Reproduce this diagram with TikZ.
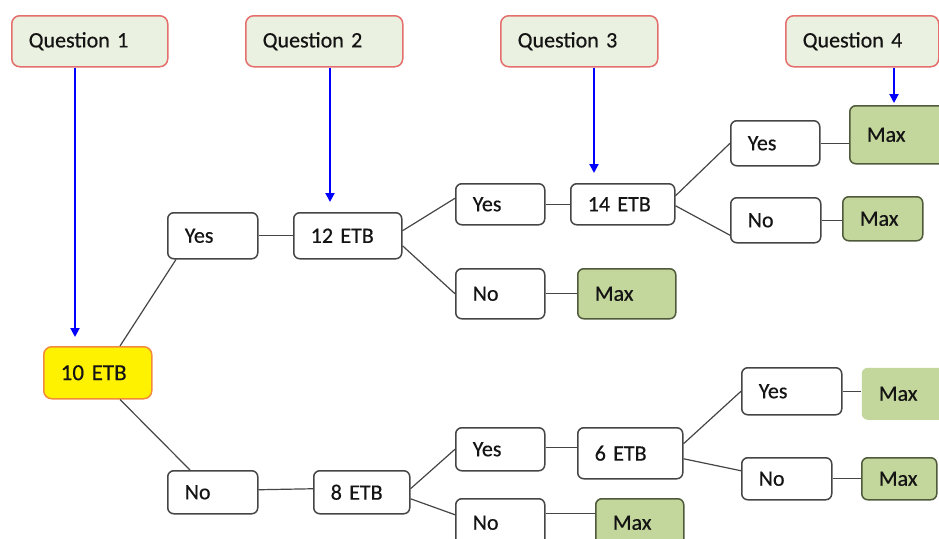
\documentclass[tikz,border=0pt]{standalone}
\usepackage{fontspec}
\setmainfont{Carlito}[WordSpace=0.6, FakeBold=0.5]
\usetikzlibrary{arrows.meta}
\definecolor{qfill}{HTML}{EAF1E0}
\definecolor{qdraw}{HTML}{E46F6C}
\definecolor{ydraw}{HTML}{F08C3C}
\definecolor{bdraw}{HTML}{454545}
\definecolor{mfill}{HTML}{C3D69B}
\definecolor{mdraw}{HTML}{4E5A3A}
\definecolor{txt}{HTML}{141414}
\newcommand\mybox[7]{%
  \pgfmathsetmacro\bxw{#5-#3}\pgfmathsetmacro\bxh{#6-#4}\pgfmathsetmacro\bxt{#5-#3-34}%
  \node[#1, minimum width=\bxw pt, minimum height=\bxh pt, text width=\bxt pt, anchor=north west] (#2) at (#3,#4) {#7};}
\tikzset{
  base/.style={rectangle, rounded corners=6pt, line width=1.5pt, inner xsep=17pt, inner ysep=0pt,
    align=left, text=txt, font=\fontsize{22}{25}\selectfont},
  qbox/.style={base, fill=qfill, draw=qdraw, rounded corners=8pt},
  rootbox/.style={base, fill=yellow, draw=ydraw, rounded corners=8pt, font=\fontsize{23}{26}\selectfont},
  wbox/.style={base, fill=white, draw=bdraw},
  mbox/.style={base, fill=mfill, draw=mdraw},
  lbox/.style={base, fill=mfill, draw=none},
  blue arrow/.style={draw=blue, line width=2pt, -{Triangle[length=9pt,width=9pt]}},
  link/.style={draw=bdraw, line width=1.2pt}
}
\begin{document}
\begin{tikzpicture}[x=1pt,y=-1pt]
\useasboundingbox (0,0) rectangle (939,538);
% questions
\mybox{qbox}{Q1}{11}{15}{167}{66}{Question 1}
\mybox{qbox}{Q2}{245}{15}{402}{66}{Question 2}
\mybox{qbox}{Q3}{500}{15}{657}{66}{Question 3}
\mybox{qbox}{Q4}{785}{15}{938}{66}{Question 4}
% tree
\mybox{rootbox}{E10}{43}{346}{151}{398}{10 ETB}
\mybox{wbox}{Y1}{167}{212}{257}{258}{Yes}
\mybox{wbox}{E12}{293}{212}{401}{258}{12 ETB}
\mybox{wbox}{Y2}{455}{183}{544}{224}{Yes}
\mybox{wbox}{E14}{570}{183}{674}{224}{14 ETB}
\mybox{wbox}{Y3}{730}{120}{819}{165}{Yes}
\mybox{mbox}{M1}{849}{105}{962}{163}{Max}
\mybox{wbox}{N3}{730}{197}{820}{242}{No}
\mybox{mbox}{M2}{842}{196}{922}{240}{Max}
\mybox{wbox}{N2}{455}{268}{544}{318}{No}
\mybox{mbox}{M3}{577}{268}{675}{318}{Max}
\mybox{wbox}{N1}{167}{470}{257}{513}{No}
\mybox{wbox}{E8}{313}{470}{409}{513}{8 ETB}
\mybox{wbox}{Y4}{455}{427}{544}{470}{Yes}
\mybox{wbox}{E6}{577}{427}{682}{478}{6 ETB}
\mybox{wbox}{N4}{455}{498}{544}{546}{No}
\mybox{mbox}{M4}{595}{498}{683}{546}{Max}
\mybox{wbox}{Y5}{741}{367}{841}{414}{Yes}
\mybox{lbox}{M5}{861}{367}{945}{419}{Max}
\mybox{wbox}{N5}{741}{457}{831}{499}{No}
\mybox{mbox}{M6}{861}{457}{936}{499}{Max}
% blue arrows
\coordinate (a1) at (75,0);
\coordinate (a2) at (330,0);
\coordinate (a3) at (594,0);
\coordinate (a4) at (894,0);
\draw[blue arrow, shorten >=9pt] (Q1.south -| a1) -- (E10.north -| a1);
\draw[blue arrow, shorten >=10pt] (Q2.south -| a2) -- (E12.north -| a2);
\draw[blue arrow, shorten >=10pt] (Q3.south -| a3) -- (E14.north -| a3);
\draw[blue arrow, shorten >=2pt] (Q4.south -| a4) -- (M1.north -| a4);
% connectors
\draw[link] ([xshift=77pt]E10.north west) -- ([xshift=9pt]Y1.south west);
\draw[link] ([xshift=77pt]E10.south west) -- ([xshift=23pt]N1.north west);
\draw[link] (Y1.east) -- (E12.west);
\draw[link] ([yshift=5pt]E12.east) -- ([yshift=6pt]Y2.west);
\draw[link] ([yshift=-10pt]E12.east) -- (N2.west);
\draw[link] (Y2.east) -- (E14.west);
\draw[link] ([yshift=8.5pt]E14.east) -- (Y3.west);
\draw[link] ([yshift=-1.5pt]E14.east) -- ([yshift=-15pt]N3.west);
\draw[link] (Y3.east) -- (Y3.east -| M1.west);
\draw[link] (N3.east) -- (N3.east -| M2.west);
\draw[link] (N2.east) -- (N2.east -| M3.west);
\draw[link] ([yshift=2.5pt]N1.east) -- ([yshift=3.5pt]E8.west);
\draw[link] ([yshift=3.5pt]E8.east) -- (Y4.west);
\draw[link] ([yshift=-6.5pt]E8.east) -- ([yshift=8pt]N4.west);
\draw[link] ([yshift=2pt]Y4.east) -- ([yshift=2pt]Y4.east -| E6.west);
\draw[link] ([yshift=9.5pt]E6.east) -- (Y5.west);
\draw[link] ([yshift=-5.5pt]E6.east) -- ([yshift=8pt]N5.west);
\draw[link] (Y5.east) -- (Y5.east -| M5.west);
\draw[link] (N5.east) -- (N5.east -| M6.west);
\draw[link] ([yshift=9pt]N4.east) -- ([yshift=9pt]N4.east -| M4.west);
\end{tikzpicture}
\end{document}
